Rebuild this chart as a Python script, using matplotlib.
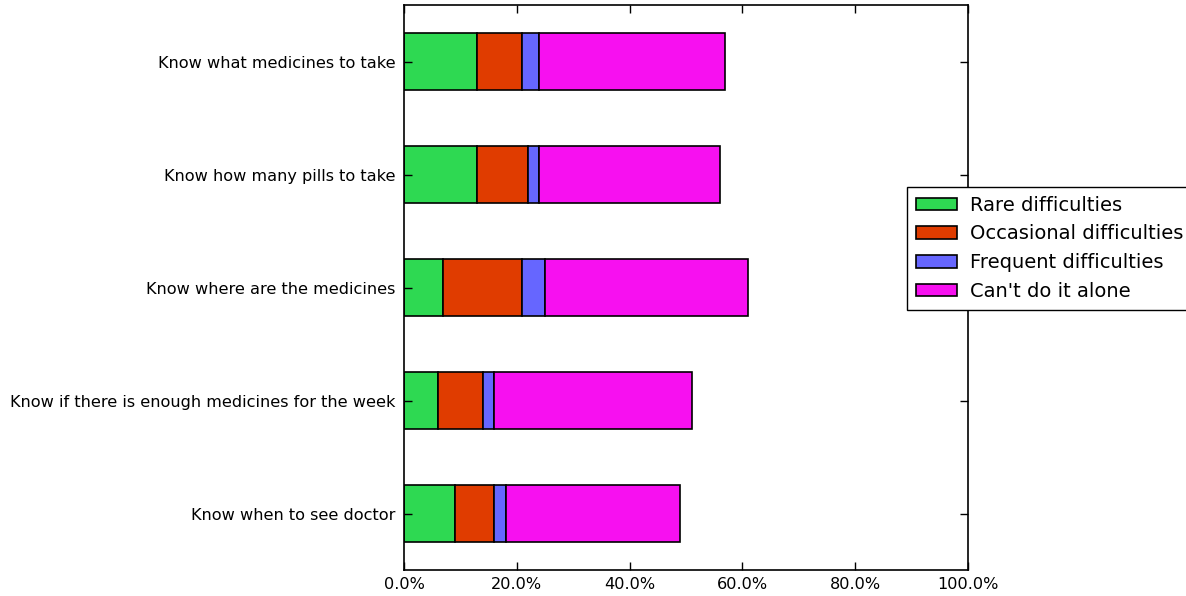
import matplotlib
matplotlib.use('Agg')
import matplotlib.pyplot as plt
import numpy as np
from matplotlib.ticker import FuncFormatter

tasks = ['Know what medicines to take',
         'Know how many pills to take',
         'Know where are the medicines',
         'Know if there is enough medicines for the week',
         'Know when to see doctor']
rare = [13, 13, 7, 6, 9]
occasional = [8, 9, 14, 8, 7]
frequent = [3, 2, 4, 2, 2]
alone = [33, 32, 36, 35, 31]

labels = ['Rare difficulties', 'Occasional difficulties',
          'Frequent difficulties', "Can't do it alone"]
colors = ['#2ed952', '#e03c00', '#6666ff', '#f710f0']

fig = plt.figure(figsize=(11.86, 5.96), dpi=100)
ax = fig.add_axes([404 / 1186, 1 - 570 / 596, 564 / 1186, 565 / 596])

ypos = np.arange(len(tasks))[::-1]
left = np.zeros(len(tasks))
for vals, lab, col in zip([rare, occasional, frequent, alone], labels, colors):
    ax.barh(ypos, vals, height=0.5, left=left, color=col, edgecolor='black',
            linewidth=1.2, label=lab)
    left = left + np.array(vals)

ax.set_xlim(0, 100)
ax.set_ylim(-0.5, 4.5)
ax.set_yticks(ypos)
ax.set_yticklabels(tasks, fontsize=11.65)
ax.set_xticks(np.arange(0, 101, 20))
ax.xaxis.set_major_formatter(FuncFormatter(lambda v, p: '%.1f%%' % v))
ax.tick_params(axis='x', labelsize=11.65, pad=5)
ax.tick_params(axis='y', pad=6)
ax.tick_params(direction='in', top=True, right=True, length=6, width=1)
for s in ax.spines.values():
    s.set_linewidth(1.2)

leg = ax.legend(loc='upper left', bbox_to_anchor=(907 / 1186, 1 - 187 / 596),
                bbox_transform=fig.transFigure, fontsize=14, fancybox=False,
                framealpha=1, edgecolor='black', borderaxespad=0,
                handlelength=2.1, handleheight=0.6, labelspacing=0.5,
                handletextpad=0.7, borderpad=0.45)
leg.get_frame().set_linewidth(1)

fig.savefig('out.png', dpi=100)
